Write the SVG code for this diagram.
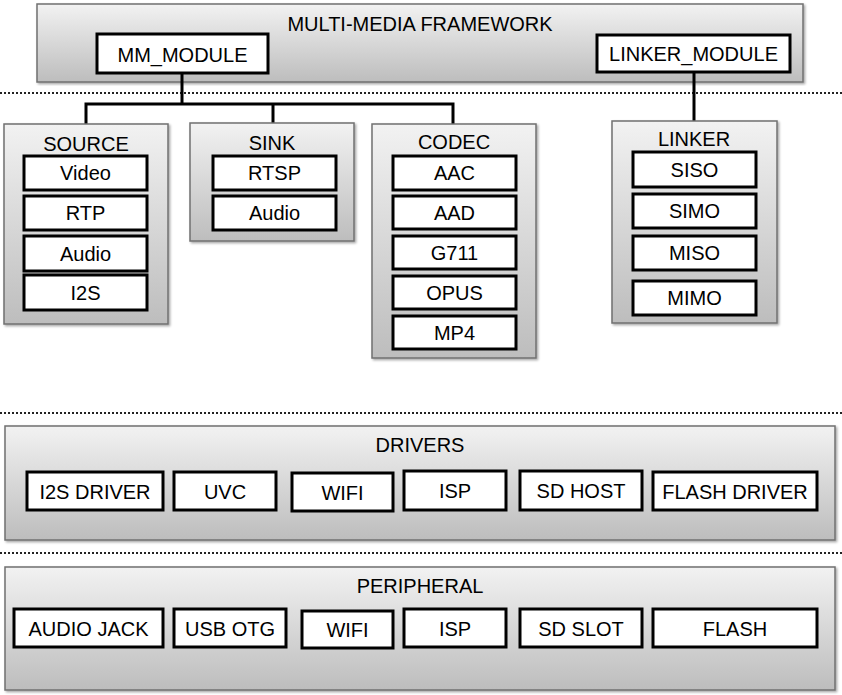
<svg xmlns="http://www.w3.org/2000/svg" width="842" height="695" viewBox="0 0 842 695">
<defs>
<linearGradient id="g" x1="0" y1="0" x2="0" y2="1">
<stop offset="0" stop-color="#f2f2f2"/>
<stop offset="1" stop-color="#bdbdbd"/>
</linearGradient>
<filter id="sh" x="-5%" y="-5%" width="110%" height="110%">
<feDropShadow dx="1.5" dy="1.5" stdDeviation="1" flood-color="#000" flood-opacity="0.35"/>
</filter>
</defs>
<style>
.outer{fill:url(#g);stroke:#707070;stroke-width:1.5;filter:url(#sh)}
.inner{fill:#fff;stroke:#000;stroke-width:3}
.t{font-family:"Liberation Sans",Arial,sans-serif;font-size:20px;fill:#000;text-anchor:middle}
.dot{stroke:#222;stroke-width:2;stroke-dasharray:2 2;fill:none}
.c{stroke:#000;stroke-width:3;fill:none}
</style>
<rect width="842" height="695" fill="#fff"/>

<g id="separators">
<line class="dot" x1="0" y1="93" x2="842" y2="93"/>
<line class="dot" x1="0" y1="413" x2="842" y2="413"/>
<line class="dot" x1="0" y1="553" x2="842" y2="553"/>
</g>

<g id="framework">
<rect class="outer" x="37" y="4" width="766" height="78"/>
<text class="t" x="420" y="31">MULTI-MEDIA FRAMEWORK</text>
</g>

<g id="connectors">
<polyline class="c" points="182,73 182,104"/>
<polyline class="c" points="86,124 86,104 453,104 453,124"/>
<line class="c" x1="273" y1="104" x2="273" y2="123"/>
<line class="c" x1="694" y1="72" x2="694" y2="121"/>
</g>

<g id="mm_module">
<rect class="inner" x="97" y="34" width="171" height="39"/>
<text class="t" x="182.5" y="62">MM_MODULE</text>
</g>
<g id="linker_module">
<rect class="inner" x="597" y="35" width="193" height="37"/>
<text class="t" x="693.5" y="61">LINKER_MODULE</text>
</g>

<g id="source">
<rect class="outer" x="4" y="124" width="164" height="200"/>
<text class="t" x="86" y="151">SOURCE</text>
<rect class="inner" x="24" y="156" width="123" height="34"/><text class="t" x="85.5" y="180">Video</text>
<rect class="inner" x="24" y="196" width="123" height="34"/><text class="t" x="85.5" y="220">RTP</text>
<rect class="inner" x="24" y="236" width="123" height="35"/><text class="t" x="85.5" y="261">Audio</text>
<rect class="inner" x="24" y="275" width="123" height="35"/><text class="t" x="85.5" y="300">I2S</text>
</g>

<g id="sink">
<rect class="outer" x="190" y="123" width="164" height="118"/>
<text class="t" x="272" y="150">SINK</text>
<rect class="inner" x="213" y="156" width="123" height="34"/><text class="t" x="274.5" y="180">RTSP</text>
<rect class="inner" x="213" y="196" width="123" height="34"/><text class="t" x="274.5" y="220">Audio</text>
</g>

<g id="codec">
<rect class="outer" x="372" y="124" width="164" height="234"/>
<text class="t" x="454" y="149">CODEC</text>
<rect class="inner" x="393" y="156" width="123" height="34"/><text class="t" x="454.5" y="180">AAC</text>
<rect class="inner" x="393" y="196" width="123" height="33"/><text class="t" x="454.5" y="220">AAD</text>
<rect class="inner" x="393" y="236" width="123" height="33"/><text class="t" x="454.5" y="260">G711</text>
<rect class="inner" x="393" y="276" width="123" height="33"/><text class="t" x="454.5" y="300">OPUS</text>
<rect class="inner" x="393" y="316" width="123" height="33"/><text class="t" x="454.5" y="340">MP4</text>
</g>

<g id="linker">
<rect class="outer" x="612" y="121" width="165" height="202"/>
<text class="t" x="694" y="146">LINKER</text>
<rect class="inner" x="633" y="152" width="123" height="35"/><text class="t" x="694.5" y="177">SISO</text>
<rect class="inner" x="633" y="194" width="123" height="34"/><text class="t" x="694.5" y="218">SIMO</text>
<rect class="inner" x="633" y="236" width="123" height="34"/><text class="t" x="694.5" y="260">MISO</text>
<rect class="inner" x="633" y="281" width="123" height="34"/><text class="t" x="694.5" y="305">MIMO</text>
</g>

<g id="drivers">
<rect class="outer" x="5" y="426" width="830" height="114"/>
<text class="t" x="420" y="452">DRIVERS</text>
<rect class="inner" x="27" y="472" width="136" height="38"/><text class="t" x="95" y="499">I2S DRIVER</text>
<rect class="inner" x="174" y="472" width="102" height="38"/><text class="t" x="225" y="499">UVC</text>
<rect class="inner" x="292" y="473" width="101" height="38"/><text class="t" x="342.5" y="500">WIFI</text>
<rect class="inner" x="404" y="471" width="102" height="39"/><text class="t" x="455" y="498">ISP</text>
<rect class="inner" x="520" y="471" width="122" height="39"/><text class="t" x="581" y="498">SD HOST</text>
<rect class="inner" x="653" y="472" width="164" height="38"/><text class="t" x="735" y="499">FLASH DRIVER</text>
</g>

<g id="peripheral">
<rect class="outer" x="5" y="567" width="830" height="123"/>
<text class="t" x="420" y="593">PERIPHERAL</text>
<rect class="inner" x="14" y="609" width="149" height="38"/><text class="t" x="88.5" y="636">AUDIO JACK</text>
<rect class="inner" x="174" y="609" width="112" height="38"/><text class="t" x="230" y="636">USB OTG</text>
<rect class="inner" x="302" y="611" width="91" height="37"/><text class="t" x="347.5" y="637">WIFI</text>
<rect class="inner" x="404" y="609" width="102" height="38"/><text class="t" x="455" y="636">ISP</text>
<rect class="inner" x="520" y="609" width="122" height="38"/><text class="t" x="581" y="636">SD SLOT</text>
<rect class="inner" x="653" y="609" width="164" height="38"/><text class="t" x="735" y="636">FLASH</text>
</g>
</svg>
